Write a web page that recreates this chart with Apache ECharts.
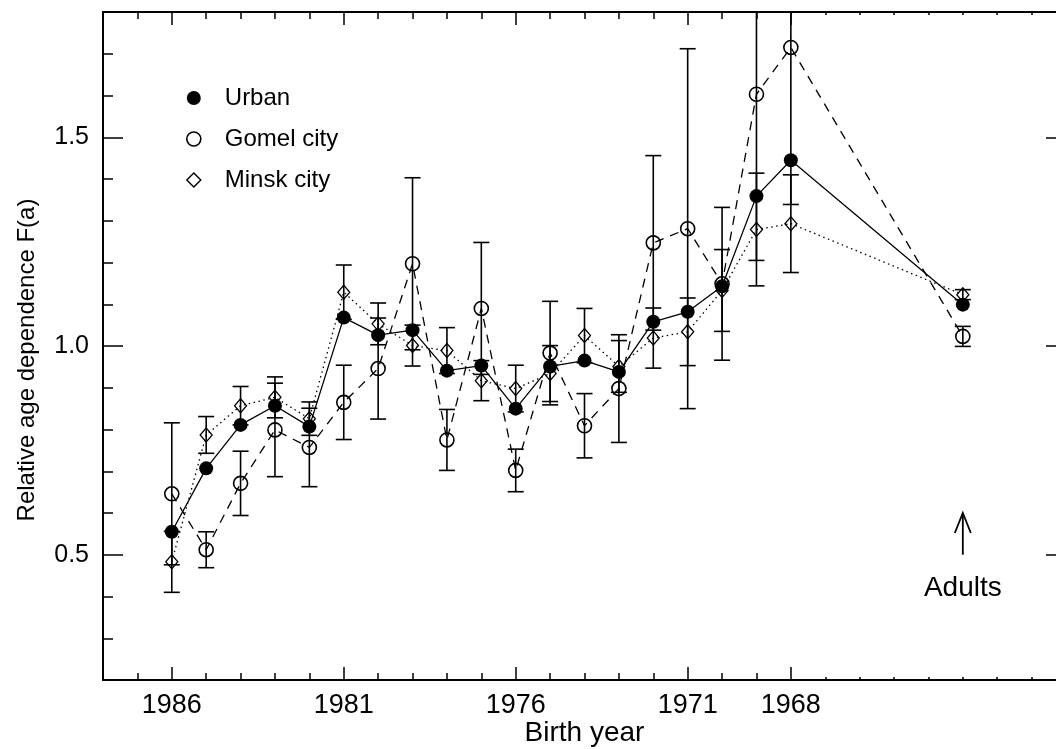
<!DOCTYPE html>
<html>
<head>
<meta charset="utf-8">
<title>Relative age dependence F(a)</title>
<script src="https://cdn.jsdelivr.net/npm/echarts@6.0.0/dist/echarts.min.js"></script>
<style>
  html, body { margin: 0; padding: 0; background: #fff; }
  #chart { width: 1056px; height: 749px; }
</style>
</head>
<body>
<div id="chart"></div>
<script>
// birth years along the axis (reversed), adults are drawn at 1963
const birthYears = [1986, 1985, 1984, 1983, 1982, 1981, 1980, 1979, 1978, 1977,
  1976, 1975, 1974, 1973, 1972, 1971, 1970, 1969, 1968];
const adultsPos = 1963;
const xPos = birthYears.concat([adultsPos]);

// last value of every array = adults
const urban = [0.555, 0.707, 0.811, 0.857, 0.807, 1.068, 1.026, 1.038, 0.941, 0.953,
  0.850, 0.951, 0.965, 0.938, 1.058, 1.082, 1.143, 1.359, 1.445, 1.099];
const gomel = [0.646, 0.512, 0.671, 0.799, 0.757, 0.865, 0.946, 1.197, 0.775, 1.090,
  0.702, 0.983, 0.809, 0.898, 1.247, 1.281, 1.149, 1.603, 1.715, 1.023];
const gomelErr = [0.170, 0.043, 0.077, 0.112, 0.094, 0.089, 0.121, 0.206, 0.073, 0.158,
  0.051, 0.124, 0.077, 0.129, 0.209, 0.431, 0.183, 0.398, 0.376, 0.024];
const minsk = [0.483, 0.787, 0.857, 0.877, 0.826, 1.129, 1.053, 1.001, 0.989, 0.917,
  0.898, 0.934, 1.025, 0.951, 1.019, 1.034, 1.133, 1.279, 1.293, 1.123];
const minskErr = [0.073, 0.044, 0.046, 0.049, 0.040, 0.065, 0.050, 0.049, 0.055, 0.048,
  0.056, 0.067, 0.065, 0.062, 0.072, 0.081, 0.098, 0.135, 0.117, 0.012];

// ticks / labels
const xLabelYears = [1986, 1981, 1976, 1971, 1968];
const xMinorYears = [1987, 1985, 1984, 1983, 1982, 1980, 1979, 1978, 1977, 1975,
  1974, 1973, 1972, 1970, 1969];
const xTinyYears = [1967, 1966, 1965, 1964, 1963, 1962, 1961];
const yLabelValues = [0.5, 1.0, 1.5];
const yMinorValues = [0.3, 0.4, 0.6, 0.7, 0.8, 0.9, 1.1, 1.2, 1.3, 1.4, 1.6, 1.7];

const FONT = 'Liberation Sans, Arial, Helvetica, sans-serif';
const BLACK = '#000';

const pts = (vals) => vals.map((v, i) => [xPos[i], v]);
const bars = (vals, errs) => vals.map((v, i) => [xPos[i], v - errs[i], v + errs[i]]);

function errorBar(params, api) {
  const x = api.value(0);
  const lo = api.coord([x, api.value(1)]);
  const hi = api.coord([x, api.value(2)]);
  const cs = params.coordSys;
  const top = Math.max(hi[1], cs.y);
  const half = 8;
  const style = { stroke: BLACK, lineWidth: 1.6 };
  const children = [
    { type: 'line', shape: { x1: lo[0], y1: lo[1], x2: lo[0], y2: top }, style: style },
    { type: 'line', shape: { x1: lo[0] - half, y1: lo[1], x2: lo[0] + half, y2: lo[1] }, style: style }
  ];
  if (hi[1] >= cs.y) {
    children.push({ type: 'line', shape: { x1: hi[0] - half, y1: hi[1], x2: hi[0] + half, y2: hi[1] }, style: style });
  }
  return { type: 'group', children: children };
}

// arrow + "Adults" note under the adult points
function adultsNote(params, api) {
  const base = api.coord([api.value(0), api.value(1)]);
  const tip = api.coord([api.value(0), api.value(2)]);
  const txt = api.coord([api.value(0), api.value(3)]);
  const style = { stroke: BLACK, lineWidth: 1.8, fill: null };
  return {
    type: 'group',
    children: [
      { type: 'line', shape: { x1: base[0], y1: base[1], x2: tip[0], y2: tip[1] }, style: style },
      { type: 'polyline', shape: { points: [[tip[0] - 8, tip[1] + 20], [tip[0], tip[1]], [tip[0] + 8, tip[1] + 20]] }, style: style },
      { type: 'text', x: txt[0], y: txt[1], style: { text: 'Adults', font: '28px ' + FONT, fill: BLACK, align: 'center', verticalAlign: 'middle' } }
    ]
  };
}

function xAxisDef(position, ticks, len, withLine, withLabel) {
  return {
    type: 'value', position: position, min: 1960, max: 1988, interval: 1, inverse: true,
    axisLine: { show: withLine, onZero: false, lineStyle: { color: BLACK, width: 2 } },
    axisTick: { show: true, inside: true, length: len, customValues: ticks, lineStyle: { color: BLACK, width: 1.5 } },
    axisLabel: withLabel
      ? { show: true, customValues: ticks, margin: 12, color: BLACK, fontSize: 27, fontFamily: FONT,
          formatter: (v) => String(v) }
      : { show: false },
    splitLine: { show: false }
  };
}

function yAxisDef(position, ticks, len, withLine, withLabel) {
  return {
    type: 'value', position: position, min: 0.2, max: 1.8, interval: 0.1,
    axisLine: { show: withLine, onZero: false, lineStyle: { color: BLACK, width: 2 } },
    axisTick: { show: true, inside: true, length: len, customValues: ticks, lineStyle: { color: BLACK, width: 1.5 } },
    axisLabel: withLabel
      ? { show: true, customValues: ticks, margin: 14, color: BLACK, fontSize: 25, fontFamily: FONT,
          formatter: (v) => v.toFixed(1) }
      : { show: false },
    splitLine: { show: false }
  };
}

const xMain = xAxisDef('bottom', xLabelYears, 13, true, true);
xMain.name = 'Birth year';
xMain.nameLocation = 'middle';
xMain.nameGap = 39;
xMain.nameMoveOverlap = false;
xMain.nameTextStyle = { color: BLACK, fontSize: 28, fontFamily: FONT };

const chart = echarts.init(document.getElementById('chart'), null, { renderer: 'canvas' });

chart.setOption({
  animation: false,
  backgroundColor: '#fff',
  textStyle: { fontFamily: FONT, color: BLACK },
  // the right frame sits just past the picture edge, as in the original
  grid: { left: 103, top: 12, width: 963, height: 668, containLabel: false, outerBoundsMode: 'none' },
  xAxis: [
    xMain,
    xAxisDef('bottom', xMinorYears, 7, false, false),
    xAxisDef('bottom', xTinyYears, 3, false, false),
    xAxisDef('top', xLabelYears, 13, true, false),
    xAxisDef('top', xMinorYears, 7, false, false),
    xAxisDef('top', xTinyYears, 3, false, false)
  ],
  yAxis: [
    yAxisDef('left', yLabelValues, 20, true, true),
    yAxisDef('left', yMinorValues, 10, false, false),
    yAxisDef('right', yLabelValues, 20, true, false),
    yAxisDef('right', yMinorValues, 10, false, false)
  ],
  graphic: [{
    type: 'text', x: 27, y: 360, rotation: Math.PI / 2,
    style: { text: 'Relative age dependence F(a)', font: '24px ' + FONT, fill: BLACK, align: 'center', verticalAlign: 'middle' }
  }],
  legend: {
    orient: 'vertical', left: 181, top: 81, itemGap: 17, itemWidth: 14, itemHeight: 14,
    selectedMode: false,
    textStyle: { color: BLACK, fontSize: 24, fontFamily: FONT, padding: [0, 0, 0, 19] },
    data: [
      { name: 'Urban', icon: 'circle', itemStyle: { color: BLACK, borderWidth: 0 } },
      { name: 'Gomel city', icon: 'circle', itemStyle: { color: '#fff', borderColor: BLACK, borderWidth: 1.6 } },
      { name: 'Minsk city', icon: 'diamond', itemStyle: { color: '#fff', borderColor: BLACK, borderWidth: 1.4 } }
    ]
  },
  series: [
    {
      name: 'Gomel bars', type: 'custom', renderItem: errorBar, data: bars(gomel, gomelErr),
      encode: { x: 0, y: [1, 2] }, z: 2, silent: true
    },
    {
      name: 'Minsk bars', type: 'custom', renderItem: errorBar, data: bars(minsk, minskErr),
      encode: { x: 0, y: [1, 2] }, z: 2, silent: true
    },
    {
      name: 'Urban', type: 'line', data: pts(urban), symbol: 'circle', symbolSize: 14,
      itemStyle: { color: BLACK }, lineStyle: { color: BLACK, width: 1.3, type: 'solid' }, z: 4
    },
    {
      name: 'Gomel city', type: 'line', data: pts(gomel), symbol: 'circle', symbolSize: 14,
      itemStyle: { color: 'rgba(0,0,0,0)', borderColor: BLACK, borderWidth: 1.6 },
      lineStyle: { color: BLACK, width: 1.3, type: [9, 7] }, z: 3
    },
    {
      name: 'Minsk city', type: 'line', data: pts(minsk), symbol: 'diamond', symbolSize: [12, 14],
      itemStyle: { color: 'rgba(0,0,0,0)', borderColor: BLACK, borderWidth: 1.3 },
      lineStyle: { color: BLACK, width: 1.3, type: [1.5, 3.5] }, z: 3
    },
    {
      name: 'Adults note', type: 'custom', renderItem: adultsNote, silent: true,
      data: [[adultsPos, 0.5, 0.6, 0.42]], encode: { x: 0, y: [1, 2, 3] }
    }
  ]
});
</script>
</body>
</html>
